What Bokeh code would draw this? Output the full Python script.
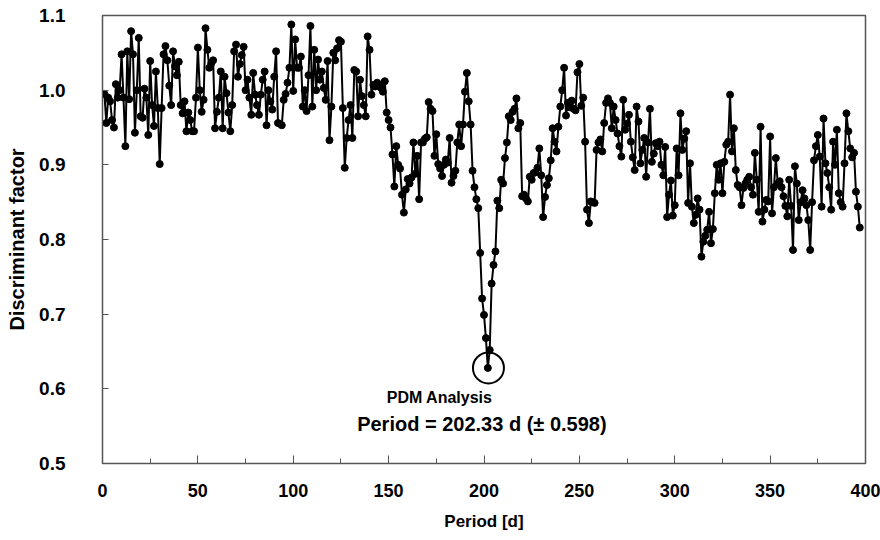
from bokeh.plotting import figure
from bokeh.models import SingleIntervalTicker, NumeralTickFormatter, Range1d, ColumnDataSource
from bokeh.core.properties import value
from bokeh.embed import file_html
from bokeh.resources import INLINE

# Discriminant factor, one value per day of trial period (1..397 d)
df_001_100 = [0.995, 0.956, 0.99, 0.985, 0.96, 0.95, 1.008, 0.99, 1.0, 1.048,
              0.99, 0.925, 1.052, 0.988, 1.079, 1.048, 0.943, 1.0, 1.07, 0.965,
              0.963, 1.002, 0.99, 0.94, 1.039, 0.98, 0.952, 1.025, 0.976, 0.901,
              0.976, 1.048, 1.059, 1.04, 1.006, 0.98, 1.052, 1.032, 1.02, 1.038,
              0.98, 0.969, 0.985, 0.945, 0.97, 0.96, 0.945, 0.945, 0.99, 1.057,
              1.0, 0.971, 0.987, 1.083, 1.054, 1.03, 1.036, 1.04, 0.949, 0.971,
              0.99, 1.025, 0.949, 1.018, 0.996, 0.97, 0.945, 0.98, 1.052, 1.061,
              1.018, 1.035, 1.047, 1.058, 1.0, 1.014, 0.99, 0.967, 1.023, 0.994,
              0.98, 0.967, 0.994, 1.014, 1.025, 0.953, 1.0, 0.985, 0.974, 1.018,
              1.052, 0.956, 0.955, 0.953, 0.987, 0.995, 1.01, 1.03, 1.088, 0.999]
df_101_200 = [1.068, 1.03, 1.03, 1.045, 0.978, 1.0, 0.972, 1.02, 1.086, 0.978,
              1.054, 1.0, 1.041, 1.014, 1.025, 1.003, 0.987, 1.039, 0.933, 0.978,
              1.05, 1.04, 1.056, 1.067, 1.065, 0.976, 0.896, 0.936, 0.96, 0.98,
              0.936, 1.027, 1.025, 0.965, 1.014, 0.992, 0.98, 0.965, 1.072, 1.054,
              0.994, 1.007, 1.005, 1.01, 1.007, 1.003, 0.998, 1.012, 0.97, 0.96,
              0.95, 0.914, 0.871, 0.925, 0.9, 0.895, 0.86, 0.836, 0.867, 0.881,
              0.875, 0.883, 0.93, 0.888, 0.912, 0.854, 0.93, 0.93, 0.935, 0.937,
              0.984, 0.975, 0.972, 0.912, 0.941, 0.901, 0.895, 0.885, 0.9, 0.907,
              0.903, 0.936, 0.876, 0.885, 0.892, 0.93, 0.954, 0.925, 0.954, 0.998,
              1.023, 0.985, 0.954, 0.892, 0.87, 0.854, 0.842, 0.782, 0.721, 0.699]
df_201_300 = [0.668, 0.628, 0.652, 0.741, 0.766, 0.784, 0.852, 0.842, 0.88, 0.875,
              0.909, 0.93, 0.965, 0.96, 0.971, 0.975, 0.989, 0.949, 0.956, 0.858,
              0.86, 0.855, 0.851, 0.884, 0.88, 0.889, 0.89, 0.896, 0.922, 0.886,
              0.83, 0.857, 0.873, 0.882, 0.906, 0.949, 0.931, 0.918, 0.951, 0.978,
              1.0, 1.03, 0.966, 0.983, 0.977, 0.986, 0.975, 0.973, 1.024, 1.035,
              0.979, 0.99, 0.931, 0.84, 0.822, 0.851, 0.85, 0.849, 0.92, 0.93,
              0.934, 0.918, 0.956, 0.983, 0.989, 0.983, 0.949, 0.978, 0.96, 0.942,
              0.925, 0.911, 0.987, 0.947, 0.955, 0.967, 0.931, 0.91, 0.893, 0.978,
              0.958, 0.902, 0.92, 0.936, 0.884, 0.93, 0.975, 0.904, 0.915, 0.929,
              0.925, 0.931, 0.9, 0.886, 0.924, 0.83, 0.86, 0.879, 0.832, 0.846]
df_301_397 = [0.922, 0.886, 0.969, 0.92, 0.935, 0.945, 0.849, 0.902, 0.844, 0.822,
              0.833, 0.855, 0.84, 0.777, 0.797, 0.805, 0.813, 0.837, 0.795, 0.814,
              0.862, 0.9, 0.88, 0.902, 0.862, 0.904, 0.927, 0.931, 0.994, 0.918,
              0.949, 0.893, 0.873, 0.87, 0.846, 0.869, 0.875, 0.88, 0.884, 0.87,
              0.86, 0.916, 0.88, 0.837, 0.951, 0.824, 0.84, 0.853, 0.851, 0.938,
              0.835, 0.87, 0.909, 0.875, 0.878, 0.87, 0.858, 0.845, 0.831, 0.88,
              0.845, 0.786, 0.898, 0.875, 0.826, 0.85, 0.866, 0.855, 0.846, 0.826,
              0.786, 0.85, 0.906, 0.925, 0.94, 0.911, 0.844, 0.962, 0.902, 0.889,
              0.87, 0.84, 0.931, 0.9, 0.947, 0.862, 0.85, 0.844, 0.902, 0.969,
              0.945, 0.922, 0.91, 0.916, 0.864, 0.844, 0.816]

factor = df_001_100 + df_101_200 + df_201_300 + df_301_397
period = list(range(1, len(factor) + 1))

best_period = 202.33
best_factor = 0.628
title_line1 = "PDM Analysis"
title_line2 = "Period = 202.33 d (\u00b1 0.598)"

FONT = "Liberation Sans"

p = figure(width=880, height=540, output_backend="svg", toolbar_location=None,
           x_range=Range1d(0, 400), y_range=Range1d(0.5, 1.1),
           min_border_left=102, min_border_right=15, min_border_top=15, min_border_bottom=77)

p.xgrid.visible = False
p.ygrid.visible = False
p.outline_line_color = "#555555"
p.outline_line_width = 1.5
p.background_fill_color = "white"
p.border_fill_color = "white"

src = ColumnDataSource(dict(x=period, y=factor))
p.line("x", "y", source=src, line_color="black", line_width=2)
p.scatter("x", "y", source=src, size=7, fill_color="black", line_color="black")

# highlight circle around minimum
p.scatter([best_period], [best_factor], size=31, fill_color=None, line_color="black", line_width=2)

p.text([149.0], [0.5885], text=[title_line1], text_font=value(FONT), text_font_style="bold",
       text_font_size="16px", text_align="left", text_baseline="middle")
p.text([133.5], [0.5535], text=[title_line2], text_font=value(FONT), text_font_style="bold",
       text_font_size="20px", text_align="left", text_baseline="middle")

xa = p.xaxis[0]
xa.ticker = SingleIntervalTicker(interval=50, num_minor_ticks=2)
xa.major_tick_in = 8
xa.major_tick_out = 0
xa.minor_tick_in = 5
xa.minor_tick_out = 0
xa.axis_line_color = "#555555"
xa.major_tick_line_color = "#555555"
xa.minor_tick_line_color = "#555555"
xa.major_label_text_font = FONT
xa.major_label_text_font_style = "bold"
xa.major_label_text_font_size = "18px"
xa.major_label_text_color = "black"
xa.major_label_standoff = 20
xa.axis_label = "Period [d]"
xa.axis_label_text_font = FONT
xa.axis_label_text_font_style = "bold"
xa.axis_label_text_font_size = "17px"
xa.axis_label_text_color = "black"
xa.axis_label_standoff = 12

ya = p.yaxis[0]
ya.ticker = SingleIntervalTicker(interval=0.1, num_minor_ticks=0)
ya.formatter = NumeralTickFormatter(format="0.0")
ya.major_tick_in = 6
ya.major_tick_out = 0
ya.minor_tick_line_color = None
ya.axis_line_color = "#555555"
ya.major_tick_line_color = "#555555"
ya.major_label_text_font = FONT
ya.major_label_text_font_style = "bold"
ya.major_label_text_font_size = "19px"
ya.major_label_text_color = "black"
ya.major_label_standoff = 37
ya.axis_label = "Discriminant factor"
ya.axis_label_text_font = FONT
ya.axis_label_text_font_style = "bold"
ya.axis_label_text_font_size = "20px"
ya.axis_label_text_color = "black"
ya.axis_label_standoff = 8

open("out.html", "w").write(file_html(p, INLINE))
